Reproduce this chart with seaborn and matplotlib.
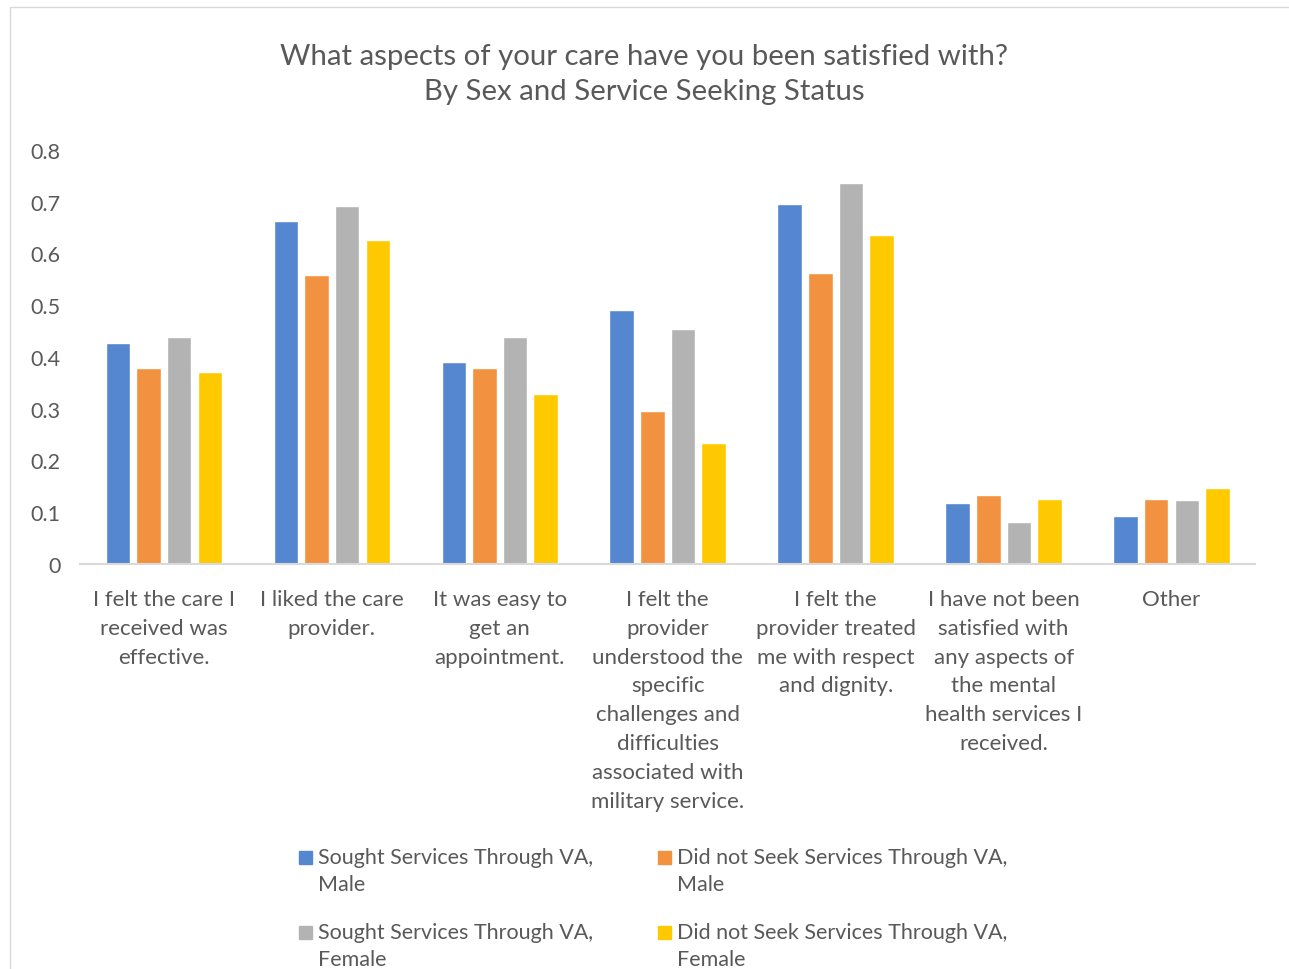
import matplotlib
matplotlib.use("Agg")
from matplotlib import pyplot as plt
import matplotlib.patches as mpatches
from matplotlib.legend_handler import HandlerPatch
import seaborn as sns
import pandas as pd

# data
categories = [
    "I felt the care I\nreceived was\neffective.",
    "I liked the care\nprovider.",
    "It was easy to\nget an\nappointment.",
    "I felt the\nprovider\nunderstood the\nspecific\nchallenges and\ndifficulties\nassociated with\nmilitary service.",
    "I felt the\nprovider treated\nme with respect\nand dignity.",
    "I have not been\nsatisfied with\nany aspects of\nthe mental\nhealth services I\nreceived.",
    "Other",
]
series_names = [
    "Sought Services Through VA,\nMale",
    "Did not Seek Services Through VA,\nMale",
    "Sought Services Through VA,\nFemale",
    "Did not Seek Services Through VA,\nFemale",
]
sought_male = [0.427, 0.662, 0.390, 0.491, 0.696, 0.118, 0.093]
notsought_male = [0.379, 0.558, 0.379, 0.296, 0.562, 0.134, 0.126]
sought_female = [0.438, 0.692, 0.438, 0.454, 0.735, 0.081, 0.124]
notsought_female = [0.371, 0.625, 0.329, 0.233, 0.635, 0.126, 0.147]
colors = ["#5587D0", "#F2913F", "#B3B3B3", "#FFC900"]

rows = []
for name, vals in zip(series_names, [sought_male, notsought_male, sought_female, notsought_female]):
    for cat, v in zip(categories, vals):
        rows.append({"cat": cat, "series": name, "value": v})
df = pd.DataFrame(rows)

sns.set_style("white")
plt.rcParams['font.family'] = ['Lato', 'DejaVu Sans']
txt = "#595959"

fig = plt.figure(figsize=(12.89, 9.70), dpi=100)
ax = fig.add_axes([0.062, 0.4175, 0.912, 0.4271])

sns.barplot(data=df, x="cat", y="value", hue="series", hue_order=series_names,
            order=categories, palette=colors, width=0.73, gap=0.2,
            saturation=1, ax=ax, errorbar=None)

ax.set_ylim(0, 0.8)
ax.set_xlim(-0.5, 6.5)
ax.set_yticks([0, 0.1, 0.2, 0.3, 0.4, 0.5, 0.6, 0.7, 0.8])
ax.set_yticklabels(["0", "0.1", "0.2", "0.3", "0.4", "0.5", "0.6", "0.7", "0.8"])
ax.tick_params(axis='y', length=0, colors=txt, labelsize=15.5, pad=14)
ax.tick_params(axis='x', length=0, colors=txt, labelsize=16, pad=18)
for lab in ax.get_xticklabels():
    lab.set_linespacing(1.55)
ax.set_xlabel("")
ax.set_ylabel("")
for s in ["top", "right", "left"]:
    ax.spines[s].set_visible(False)
ax.spines["bottom"].set_color("#D9D9D9")
ax.spines["bottom"].set_linewidth(1.5)

fig.suptitle("What aspects of your care have you been satisfied with?\nBy Sex and Service Seeking Status",
             y=0.955, fontsize=21.2, color=txt, linespacing=1.45)


# legend squares sit next to the first line of each two-line label
def top_square(legend, orig_handle, xdescent, ydescent, width, height, fontsize):
    return mpatches.Rectangle((-xdescent, -ydescent + 0.62 * fontsize), width, height)


ax.get_legend().remove()
order = [0, 2, 1, 3]
leg = fig.legend([mpatches.Patch(color=colors[i]) for i in order], [series_names[i] for i in order],
                 ncol=2, loc="upper left", bbox_to_anchor=(0.2172, 0.146),
                 bbox_transform=fig.transFigure, frameon=False, fontsize=15.5,
                 labelcolor=txt, handlelength=0.6, handleheight=0.6, handletextpad=0.25,
                 columnspacing=3.05, labelspacing=1.3,
                 handler_map={mpatches.Patch: HandlerPatch(patch_func=top_square)})
for t in leg.get_texts():
    t.set_linespacing(1.45)

# outer chart frame
fig.patches.append(mpatches.Rectangle((10 / 1289, -0.1), 1.2, 1 - 8 / 970 + 0.1,
                                      transform=fig.transFigure, fill=False,
                                      edgecolor="#D9D9D9", linewidth=1))

fig.savefig("out.png", dpi=100)
